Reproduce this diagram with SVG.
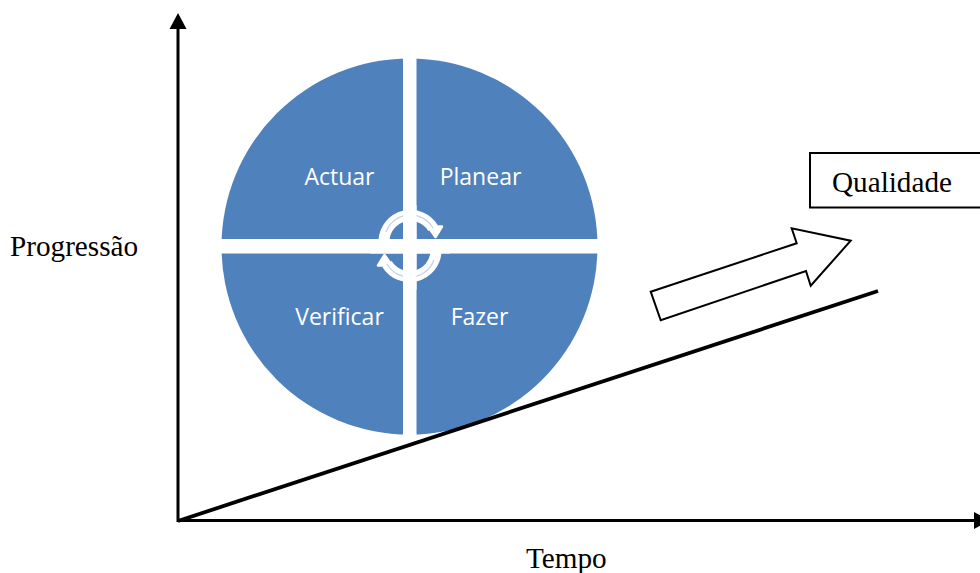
<svg xmlns="http://www.w3.org/2000/svg" width="980" height="573" viewBox="0 0 980 573">
<style>
.s{font-family:"Liberation Serif","Times New Roman",serif;font-size:29.200px;fill:#000}
.c{font-family:"Open Sans","Noto Sans",sans-serif;font-size:23px;fill:#fff;text-anchor:middle}
.cy{fill:none;stroke:#fff;stroke-width:11}
.cl{fill:none;stroke:#c5d3e8;stroke-width:1.300}
.h{fill:#fff;stroke:#fff;stroke-width:2.500;stroke-linejoin:round}
</style>
<rect width="980" height="573" fill="#fff"/>
<g id="cycle">
<circle cx="409.500" cy="246.500" r="188" fill="#4f81bd"/>
<rect x="403" y="50" width="13.500" height="395" fill="#fff"/>
<rect x="215" y="239" width="390" height="14.500" fill="#fff"/>
<path class="cy" d="M384 240A26.500 26.500 0 0 1 433 228"/>
<path class="h" d="M428 226.500L442 226.500L435.500 237Z"/>
<path class="cy" d="M436 252A26.500 26.500 0 0 1 387 264"/>
<path class="h" d="M392 265.500L378 265.500L384.500 255Z"/>
<path class="cl" d="M386 232A26 26 0 0 1 433 228"/>
<path class="cl" d="M434 260A26 26 0 0 1 387 264"/>
<rect x="403" y="205" width="13.500" height="85" fill="#fff"/>
<rect x="370" y="239" width="80" height="14.500" fill="#fff"/>
</g>
<g id="actuar"><text class="c" x="339.500" y="185">Actuar</text></g>
<g id="planear"><text class="c" x="480.500" y="185">Planear</text></g>
<g id="verificar"><text class="c" x="339.500" y="325">Verificar</text></g>
<g id="fazer"><text class="c" x="479.500" y="325">Fazer</text></g>
<g id="connectors">
<line x1="178" y1="522" x2="178" y2="26" stroke="#000" stroke-width="3"/>
<path d="M178 13L186.500 29H169.500Z" fill="#000"/>
<line x1="177" y1="520.500" x2="976" y2="520.500" stroke="#000" stroke-width="3"/>
<path d="M990 520.500L974 512V529Z" fill="#000"/>
<line x1="178" y1="521" x2="878" y2="291" stroke="#000" stroke-width="3.800"/>
</g>
<g id="arrow"><path d="M650.700 291.700L796.700 243.300L791.700 228.300L850.700 240.700L810.700 285.700L806 271L660.700 320.300Z" fill="#fff" stroke="#000" stroke-width="2"/></g>
<g id="qualidade"><rect x="810" y="153" width="185" height="54.500" fill="#fff" stroke="#000" stroke-width="2"/><text class="s" x="832" y="192">Qualidade</text></g>
<g id="progressao"><text class="s" x="10" y="256">Progressão</text></g>
<g id="tempo"><text class="s" x="526" y="568">Tempo</text></g>
</svg>
